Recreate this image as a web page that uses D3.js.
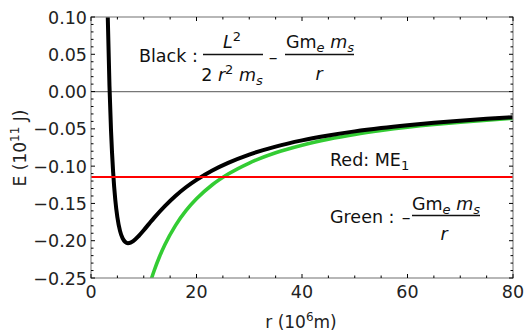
<!DOCTYPE html>
<html><head><meta charset="utf-8">
<script src="https://cdn.jsdelivr.net/npm/d3@7"></script>
<style>body{margin:0;background:#fff}svg{display:block;font-family:"DejaVu Sans",sans-serif}</style>
</head><body><svg id="c" width="526" height="335"></svg>
<script>
const blackR = [3.1,3.2,3.5,3.8,4.2,4.6,5,5.5,6,6.5,7,7.5,8,9,10,11,12,14,16,18,20,23,26,30,35,40,45,50,55,60,65,70,75,80];
const blackE = [0.130,0.094,0.008,-0.053,-0.1085,-0.1449,-0.1686,-0.1868,-0.1970,-0.2018,-0.2034,-0.2027,-0.2006,-0.1940,-0.1859,-0.1774,-0.1690,-0.1536,-0.1400,-0.1283,-0.1184,-0.1058,-0.0956,-0.0845,-0.0738,-0.0655,-0.0589,-0.0534,-0.0489,-0.0451,-0.0418,-0.0390,-0.0365,-0.0343];
const greenR = [11.2,11.5,12,13,14,16,18,20,23,26,30,35,40,45,50,55,60,65,70,75,80];
const greenE = [-0.2567,-0.25,-0.2396,-0.2212,-0.2054,-0.1797,-0.1597,-0.1438,-0.125,-0.1106,-0.0958,-0.0821,-0.0719,-0.0639,-0.0575,-0.0523,-0.0479,-0.0442,-0.0411,-0.0383,-0.0359];
const redE = -0.1144;
const xTicks = [0,20,40,60,80];
const yTicks = [0.10,0.05,0.00,-0.05,-0.10,-0.15,-0.20,-0.25];

const svg = d3.select("#c");
const L=91,R=513,T=17,B=278;
const x = d3.scaleLinear().domain([0,80]).range([L,R]);
const y = d3.scaleLinear().domain([-0.25,0.10]).range([B,T]);

svg.append("clipPath").attr("id","clip").append("rect").attr("x",L).attr("y",T).attr("width",R-L).attr("height",B-T);
const g = svg.append("g").attr("clip-path","url(#clip)");

g.append("line").attr("x1",L).attr("x2",R).attr("y1",y(0)).attr("y2",y(0)).attr("stroke","#777").attr("stroke-width",1.2);

const line = d3.line().x(d=>x(d[0])).y(d=>y(d[1])).curve(d3.curveMonotoneX);
g.append("path").datum(greenR.map((r,i)=>[r,greenE[i]])).attr("d",line).attr("fill","none").attr("stroke","#33cc33").attr("stroke-width",3.6);
g.append("path").datum(blackR.map((r,i)=>[r,blackE[i]])).attr("d",line).attr("fill","none").attr("stroke","#000").attr("stroke-width",4);
g.append("line").attr("x1",L).attr("x2",R).attr("y1",y(redE)).attr("y2",y(redE)).attr("stroke","#ff0000").attr("stroke-width",2);

svg.append("rect").attr("x",L).attr("y",T).attr("width",R-L).attr("height",B-T).attr("fill","none").attr("stroke","#888").attr("stroke-width",1.2);

const tk = svg.append("g").attr("stroke","#000").attr("stroke-width",1);
d3.range(0,81,5).forEach(v=>{
  const len = v%20===0?4:2.5;
  tk.append("line").attr("x1",x(v)).attr("x2",x(v)).attr("y1",B).attr("y2",B-len);
  tk.append("line").attr("x1",x(v)).attr("x2",x(v)).attr("y1",T).attr("y2",T+len);
});
d3.range(-25,11,1).forEach(k=>{
  const v=k/100, len = k%5===0?4:2.5;
  tk.append("line").attr("x1",L).attr("x2",L+len).attr("y1",y(v)).attr("y2",y(v));
  tk.append("line").attr("x1",R).attr("x2",R-len).attr("y1",y(v)).attr("y2",y(v));
});

const fs = 17.5;
xTicks.forEach(v=>svg.append("text").attr("x",x(v)).attr("y",B+20).attr("text-anchor","middle").attr("font-size",fs).attr("fill","#222").text(v));
yTicks.forEach(v=>svg.append("text").attr("x",L-4).attr("y",y(v)+6.5).attr("text-anchor","end").attr("font-size",fs).attr("fill","#222").text(v<0?"\u2212"+Math.abs(v).toFixed(2):v.toFixed(2)));

const xl = svg.append("text").attr("x",301).attr("y",328).attr("text-anchor","middle").attr("font-size",17).attr("fill","#222");
xl.append("tspan").text("r (10");
xl.append("tspan").attr("dy",-7).attr("font-size",12).text("6");
xl.append("tspan").attr("dy",7).text("m)");
const yl = svg.append("text").attr("transform","translate(26,148) rotate(-90)").attr("text-anchor","middle").attr("font-size",17).attr("fill","#222");
yl.append("tspan").text("E (10");
yl.append("tspan").attr("dy",-7).attr("font-size",12).text("11");
yl.append("tspan").attr("dy",7).text(" J)");

const fsa = 17.5, fss = 13;
function txt(xx,yy,anchor){return svg.append("text").attr("x",xx).attr("y",yy).attr("text-anchor",anchor).attr("font-size",fsa).attr("fill","#111");}
txt(139,62,"start").text("Black :");
svg.append("line").attr("x1",203).attr("x2",263).attr("y1",54.5).attr("y2",54.5).attr("stroke","#111").attr("stroke-width",1.3);
let t = txt(232,48,"middle"); t.append("tspan").attr("font-style","italic").text("L"); t.append("tspan").attr("dy",-7).attr("font-size",fss).text("2");
t = txt(232,81,"middle"); t.append("tspan").text("2 "); t.append("tspan").attr("font-style","italic").text("r");
t.append("tspan").attr("dy",-7).attr("font-size",fss).text("2"); t.append("tspan").attr("dy",7).attr("font-style","italic").text(" m");
t.append("tspan").attr("dy",4).attr("font-size",fss).attr("font-style","italic").text("s");
txt(273,63,"middle").text("\u2013");
svg.append("line").attr("x1",285).attr("x2",354).attr("y1",54.5).attr("y2",54.5).attr("stroke","#111").attr("stroke-width",1.3);
function gm(xx,yy){
  const s = txt(xx,yy,"middle"); s.append("tspan").text("Gm"); s.append("tspan").attr("dy",4).attr("font-size",fss).attr("font-style","italic").text("e");
  s.append("tspan").attr("dy",-4).attr("font-style","italic").text(" m"); s.append("tspan").attr("dy",4).attr("font-size",fss).attr("font-style","italic").text("s");
}
gm(320,48);
txt(319,80,"middle").attr("font-style","italic").text("r");

t = txt(330,166,"start"); t.append("tspan").text("Red: ME"); t.append("tspan").attr("dy",4).attr("font-size",fss).text("1");

txt(330,223,"start").text("Green :");
txt(406,223,"middle").text("\u2013");
svg.append("line").attr("x1",412).attr("x2",480).attr("y1",215.5).attr("y2",215.5).attr("stroke","#111").attr("stroke-width",1.3);
gm(446,210);
txt(444,240,"middle").attr("font-style","italic").text("r");
</script></body></html>
